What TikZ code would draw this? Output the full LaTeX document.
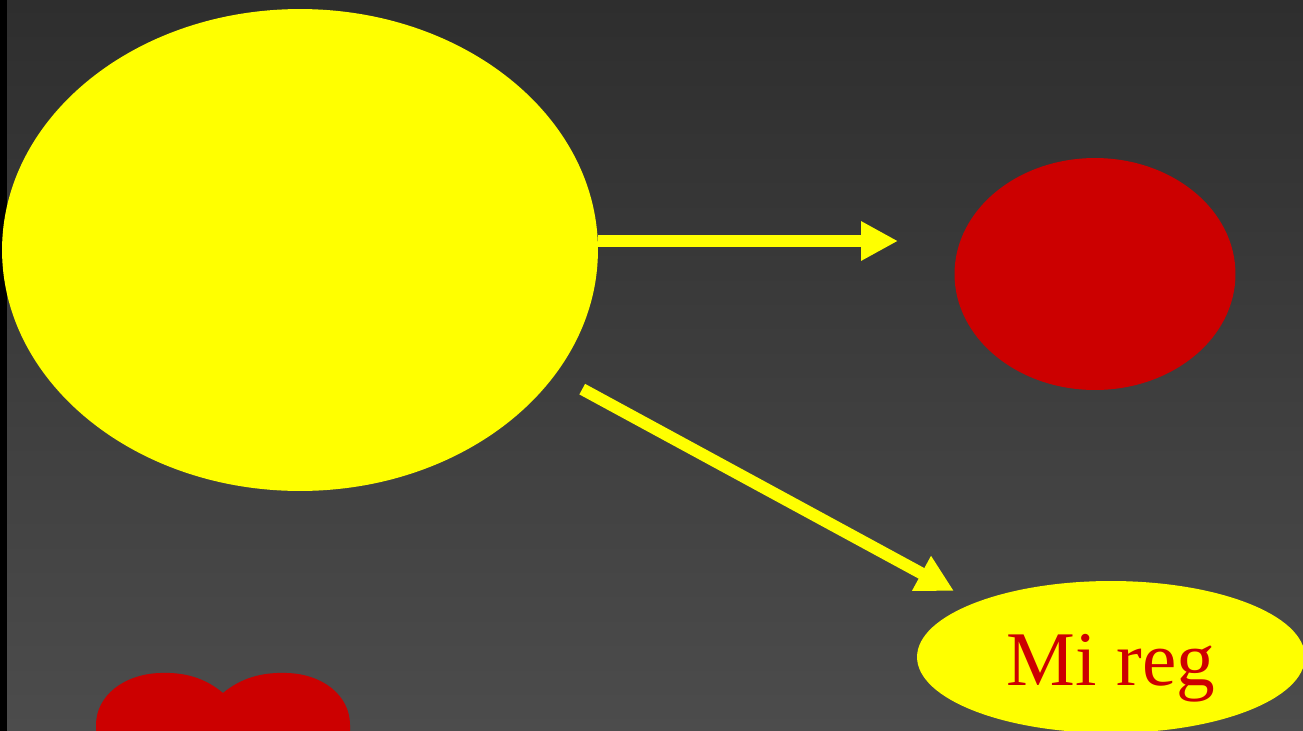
\documentclass[tikz,border=0pt]{standalone}
\usepackage{fontspec}
\setmainfont{Liberation Serif}
\usetikzlibrary{arrows.meta,shapes.geometric}
\definecolor{sunyellow}{RGB}{255,255,0}
\definecolor{deepred}{RGB}{204,0,0}
\definecolor{bgtop}{RGB}{46,46,46}
\definecolor{bgbottom}{RGB}{76,76,76}
\tikzset{
  blob/.style={ellipse, inner sep=0pt, draw=none},
  flow/.style={-{Triangle[length=7.4mm,width=7.4mm]}, line width=2.4mm, draw=sunyellow},
  tagtext/.style={text=deepred, font=\fontsize{44}{50}\selectfont}
}

\begin{document}
\begin{tikzpicture}[x=0.02cm,y=-0.02cm]

% Backdrop
\useasboundingbox (0,0) rectangle (1303,731);
\clip (0,0) rectangle (1303,731);
\shade[top color=bgtop, bottom color=bgbottom] (0,0) rectangle (1303,731);
\fill[black] (0,0) rectangle (7,731);

% Shapes
\node[blob, fill=sunyellow, minimum width=11.92cm, minimum height=9.64cm] (sun) at (300,250) {};
\node[blob, fill=deepred, minimum width=5.62cm, minimum height=4.64cm] (redspot) at (1095,274) {};
\node[blob, fill=sunyellow, minimum width=7.76cm, minimum height=3.04cm, tagtext] (mireg) at (1111,657) {\raisebox{-0.56cm}[0pt][0pt]{Mi reg}};

% Heart, cut by the lower edge
\fill[deepred] (223,693) .. controls (205,678) and (185,672) .. (160,673)
  .. controls (125,674) and (96,695) .. (96,725) -- (96,760) -- (350,760) -- (350,725)
  .. controls (350,695) and (322,674) .. (287,673)
  .. controls (262,672) and (241,678) .. (223,693) -- cycle;

% Flow arrows
\coordinate (rtip) at (898,241);
\coordinate (dtip) at (954,591);
\draw[flow] (sun.east |- rtip) -- (rtip);
\draw[flow, shorten <=6.1mm] (sun.-26.7) -- (dtip);

\end{tikzpicture}
\end{document}
